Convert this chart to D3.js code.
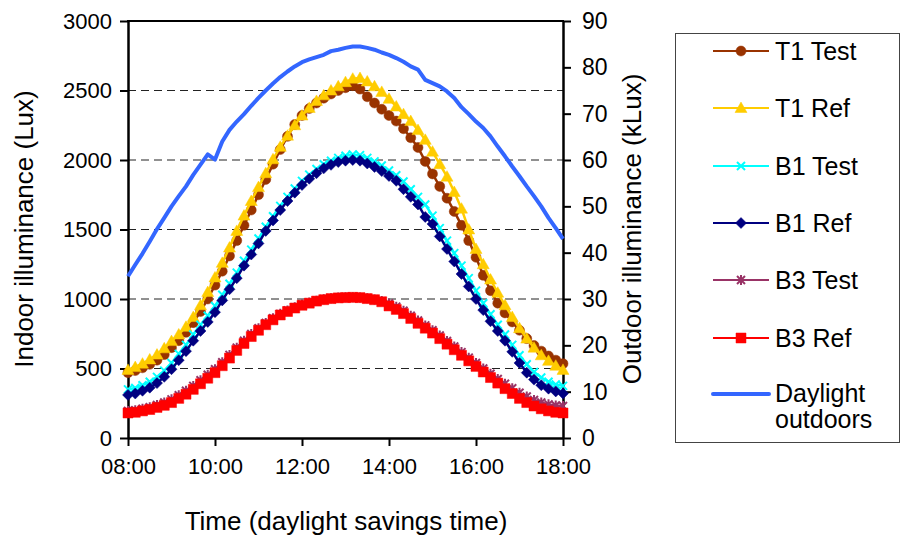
<!DOCTYPE html>
<html><head><meta charset="utf-8">
<script src="https://cdn.jsdelivr.net/npm/d3@7"></script>
<style>
html,body{margin:0;padding:0;background:#fff;}
svg text{font-family:"Liberation Sans",Arial,sans-serif;fill:#000;}
</style></head>
<body><svg id="chart" width="902" height="537"></svg>
<script>
// minutes since midnight, 08:00 to 18:00 every 10 minutes
const times = d3.range(480, 1081, 10);
const xTickLabels = ["08:00","10:00","12:00","14:00","16:00","18:00"];
const leftTicks = [0,500,1000,1500,2000,2500,3000];
const rightTicks = [0,10,20,30,40,50,60,70,80,90];
const seriesNames = ["T1 Test","T1 Ref","B1 Test","B1 Ref","B3 Test","B3 Ref","Daylight outdoors"];

const t1Test = [470,485,505,530,560,600, 650,700,760,830,910,1000, 1100,1200,1310,1420,1530,1640,
 1750,1860,1970,2075,2170,2255, 2320,2370,2410,2445,2475,2500, 2520,2535,2510,2455,2410,2365,
 2320,2280,2225,2160,2090,1990, 1900,1810,1725,1630,1530,1420, 1300,1170,1060,970,900,835,
 775,715,665,625,590,560,535];
const t1Ref = [490,510,535,565,600,645, 697,745,800,870,955,1050, 1155,1260,1370,1490,1600,1705,
 1805,1905,2005,2095,2175,2250, 2320,2375,2425,2465,2500,2530, 2560,2585,2590,2565,2530,2490,
 2440,2385,2330,2280,2215,2145, 2060,1970,1880,1770,1650,1500, 1360,1250,1140,1045,955,870,
 790,715,650,595,555,520,490];
const b1Test = [350,360,380,405,440,485, 540,605,670,745,815,880, 950,1030,1110,1190,1275,1355,
 1435,1520,1595,1670,1735,1795, 1850,1895,1935,1970,1995,2015, 2030,2040,2035,2015,1990,1960,
 1925,1890,1845,1790,1735,1680, 1600,1510,1420,1330,1240,1150, 1060,970,890,815,745,670,
 595,530,475,435,405,385,375];
const b1Ref = [310,320,340,362,395,440, 495,560,625,700,770,835, 905,990,1070,1150,1240,1320,
 1400,1490,1565,1640,1705,1765, 1820,1865,1905,1940,1965,1985, 1995,2000,1995,1975,1950,1920,
 1885,1850,1790,1735,1680,1590, 1540,1450,1360,1270,1180,1090, 1000,920,840,770,700,620,
 540,470,420,380,355,335,320];
const b3Test = [195,200,210,222,238,255, 278,308,340,375,415,455, 495,545,598,650,700,748,
 790,828,862,893,918,940, 960,975,988,998,1005,1010, 1012,1013,1011,1005,997,985,
 968,945,915,880,845,810, 775,737,698,658,618,578, 540,500,462,425,390,358,
 325,298,273,255,242,234,230];
const b3Ref = [180,185,195,205,220,235, 255,285,315,350,390,430, 470,520,575,630,680,730,
 775,815,850,885,910,935, 955,970,985,995,1003,1008, 1010,1012,1010,1003,995,980,
 950,925,895,860,825,790, 755,715,675,635,595,555, 515,475,435,395,355,320,
 285,255,230,210,195,185,180];
const daylight = [34.9,37.4,39.8,42.4,45.1,47.5, 50.0,52.2,54.3,56.8,59.0,61.2, 60.1,64.0,66.5,68.3,69.9,71.7,
 73.4,75.0,76.5,77.9,79.1,80.2, 81.1,81.7,82.2,82.7,83.5,83.8, 84.2,84.5,84.5,84.2,83.8,83.2,
 82.7,82.0,81.2,80.2,79.5,77.3, 76.6,75.9,74.8,73.4,71.4,69.9, 68.3,66.9,65.1,62.9,60.8,58.6,
 56.5,54.3,52.2,50.0,47.5,45.3,43.0];

const svg = d3.select("#chart");
const L = 128, R = 563, T = 21, B = 438;
const x = d3.scaleLinear().domain([480, 1080]).range([L, R]);
const yL = d3.scaleLinear().domain([0, 3000]).range([B, T]);
const yR = d3.scaleLinear().domain([0, 90]).range([B, T]);
const FONT = '"Liberation Sans",Arial,sans-serif';

// gridlines
svg.append("g").selectAll("line").data(leftTicks.filter(v => v > 0 && v < 3000)).join("line")
  .attr("x1", L).attr("x2", R).attr("y1", d => yL(d)).attr("y2", d => yL(d))
  .attr("stroke", "#222").attr("stroke-width", 1).attr("stroke-dasharray", "8,5");

// axes
const tickFs = 22, titleFs = 26, legFs = 25;
const axL = svg.append("g").attr("transform", `translate(${L},0)`)
  .call(d3.axisLeft(yL).tickValues(leftTicks).tickFormat(d3.format("d")).tickSize(8).tickPadding(8).tickSizeOuter(0));
const axR = svg.append("g").attr("transform", `translate(${R},0)`)
  .call(d3.axisRight(yR).tickValues(rightTicks).tickSize(8).tickPadding(11).tickSizeOuter(0));
const axB = svg.append("g").attr("transform", `translate(0,${B})`)
  .call(d3.axisBottom(x).tickValues([480,600,720,840,960,1080])
    .tickFormat((d,i) => xTickLabels[i]).tickSize(8).tickPadding(12).tickSizeOuter(0));
[axL, axR, axB].forEach(a => {
  a.selectAll("path.domain").attr("stroke", "#000").attr("stroke-width", 2.5);
  a.selectAll(".tick line").attr("stroke", "#000").attr("stroke-width", 2);
  a.selectAll("text").style("font-size", tickFs + "px").style("font-family", FONT).attr("fill", "#000");
});
axR.selectAll("text").style("font-size", "23px");
// top border
svg.append("line").attr("x1", L - 1).attr("x2", R + 1).attr("y1", T).attr("y2", T)
  .attr("stroke", "#000").attr("stroke-width", 2);

// axis titles
svg.append("text").attr("x", 346).attr("y", 530).attr("text-anchor", "middle")
  .style("font-size", titleFs + "px").text("Time (daylight savings time)");
svg.append("text").attr("transform", "translate(33,229) rotate(-90)").attr("text-anchor", "middle")
  .style("font-size", titleFs + "px").text("Indoor illuminance (Lux)");
svg.append("text").attr("transform", "translate(641,229) rotate(-90)").attr("text-anchor", "middle")
  .style("font-size", titleFs + "px").text("Outdoor illuminance (kLux)");

// marker shapes
const shapes = {
  circle: "M5,0A5,5,0,1,1,-5,0A5,5,0,1,1,5,0Z",
  triangle: "M0,-6L6,4.5L-6,4.5Z",
  x: "M-4,-4L4,4M-4,4L4,-4",
  diamond: "M0,-5.5L5.5,0L0,5.5L-5.5,0Z",
  asterisk: "M-4,-4L4,4M-4,4L4,-4M0,-5L0,5",
  square: "M-5,-5H5V5H-5Z"
};
const series = [
  {name: seriesNames[0], data: t1Test, color: "#993300", shape: "circle", fill: true},
  {name: seriesNames[1], data: t1Ref, color: "#FFCC00", shape: "triangle", fill: true},
  {name: seriesNames[2], data: b1Test, color: "#00FFFF", shape: "x", fill: false},
  {name: seriesNames[3], data: b1Ref, color: "#000080", shape: "diamond", fill: true},
  {name: seriesNames[4], data: b3Test, color: "#993366", shape: "asterisk", fill: false},
  {name: seriesNames[5], data: b3Ref, color: "#FF0000", shape: "square", fill: true}
];
const lineL = d3.line().x((d, i) => x(times[i])).y(d => yL(d));
series.forEach(s => {
  const g = svg.append("g");
  g.append("path").datum(s.data).attr("d", lineL).attr("fill", "none")
    .attr("stroke", s.color).attr("stroke-width", 2.5);
  g.selectAll("path.m").data(s.data).join("path").attr("class", "m")
    .attr("transform", (d, i) => `translate(${x(times[i])},${yL(d)})`)
    .attr("d", shapes[s.shape])
    .attr("fill", s.fill ? s.color : "none")
    .attr("stroke", s.color).attr("stroke-width", s.fill ? 0.5 : 2);
});
// daylight line (right axis)
svg.append("path").datum(daylight)
  .attr("d", d3.line().x((d, i) => x(times[i])).y(d => yR(d)))
  .attr("fill", "none").attr("stroke", "#3366FF").attr("stroke-width", 4)
  .attr("stroke-linejoin", "round");

// legend
const lg = svg.append("g");
lg.append("rect").attr("x", 675.5).attr("y", 33.5).attr("width", 224).attr("height", 409)
  .attr("fill", "#fff").attr("stroke", "#444").attr("stroke-width", 1);
const rowsY = [51, 108, 166, 223, 280, 338];
series.forEach((s, i) => {
  const cy = rowsY[i];
  lg.append("line").attr("x1", 713).attr("x2", 769).attr("y1", cy).attr("y2", cy)
    .attr("stroke", s.color).attr("stroke-width", 2);
  lg.append("path").attr("transform", `translate(741,${cy})`).attr("d", shapes[s.shape])
    .attr("fill", s.fill ? s.color : "none").attr("stroke", s.color).attr("stroke-width", s.fill ? 0.5 : 2);
  lg.append("text").attr("x", 775).attr("y", cy + 9).style("font-size", legFs + "px").text(s.name);
});
lg.append("line").attr("x1", 713).attr("x2", 769).attr("y1", 394).attr("y2", 394)
  .attr("stroke", "#3366FF").attr("stroke-width", 4).attr("stroke-linecap", "round");
const dlParts = seriesNames[6].split(" ");
lg.append("text").attr("x", 775).attr("y", 402).style("font-size", legFs + "px").text(dlParts[0]);
lg.append("text").attr("x", 775).attr("y", 428).style("font-size", legFs + "px").text(dlParts[1]);
</script></body></html>
